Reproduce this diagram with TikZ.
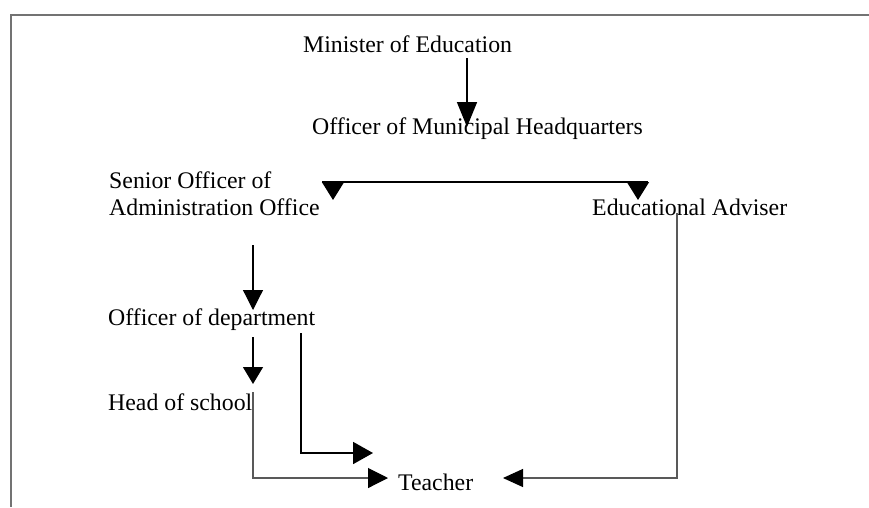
\documentclass[tikz,border=0pt]{standalone}
\usepackage{fontspec}
\setmainfont{Liberation Serif}
\usetikzlibrary{arrows.meta}
\begin{document}
\begin{tikzpicture}[x=1pt,y=-1pt,
  lbl/.style={anchor=base west,inner sep=0pt,font=\fontsize{23.8}{27}\selectfont,align=left},
  frame/.style={draw=black!55,line width=2.4pt},
  link/.style={draw=black,line width=1.6pt},
  thin/.style={draw=black!65,line width=1.1pt},
  tipA/.style={-{Triangle[length=25pt,width=20pt]}},
  tipB/.style={-{Triangle[length=18pt,width=22pt]}},
  tipC/.style={-{Triangle[length=20pt,width=20pt]}}]
\useasboundingbox (0,0) rectangle (869,507);
\fill[white] (0,0) rectangle (869,507);
% outer frame (top and left edges)
\draw[frame] (869,15) -- (11,15) -- (11,507);

% hierarchy labels
\node[lbl] (min) at (303,52) {Minister of Education};
\node[lbl] (moh) at (312,134) {Officer of Municipal Headquarters};
\node[lbl] (sen) at (109,215) {Senior Officer of\\Administration Office};
\node[lbl] (adv) at (592,215) {Educational Adviser};
\node[lbl] (dep) at (108,325) {Officer of department};
\node[lbl] (hos) at (108,410) {Head of school};
\node[lbl] (tea) at (398,490) {Teacher};

% connector end points
\coordinate (minOut) at (467,58);
\coordinate (mohIn) at (467,127);
\coordinate (brL) at (333,182);
\coordinate (brR) at (638,182);
\coordinate (brLtip) at (333,200);
\coordinate (brRtip) at (638,200);
\coordinate (senOut) at (253,245);
\coordinate (depIn) at (253,310);
\coordinate (depOut) at (253,337);
\coordinate (hosIn) at (253,384);
\coordinate (hosOut) at (253,392);
\coordinate (hosBend) at (253,478);
\coordinate (teaInL) at (388,478);
\coordinate (depOut2) at (301,333);
\coordinate (depBend) at (301,453);
\coordinate (teaInM) at (373,453);
\coordinate (advOut) at (677,213);
\coordinate (advBend) at (677,478);
\coordinate (teaInR) at (503,478);

% Minister -> Municipal Headquarters
\draw[link,tipA] (minOut) -- (mohIn);
% branch to the two departments
\draw[link,line width=1.4pt] ([xshift=-11pt]brL) -- ([xshift=10pt]brR);
\draw[link,tipB] (brL) -- (brLtip);
\draw[link,tipB] (brR) -- (brRtip);
% administration chain
\draw[link,line width=1.2pt,tipC] (senOut) -- (depIn);
\draw[link,line width=1.2pt,-{Triangle[length=17pt,width=20pt]}] (depOut) -- (hosIn);
% into Teacher
\draw[thin,-{Triangle[length=20pt,width=20pt,color=black]}] (hosOut) -- (hosBend) -- (teaInL);
\draw[link,line width=1.8pt,-{Triangle[length=20pt,width=22pt]}] (depOut2) -- (depBend) -- (teaInM);
\draw[thin,-{Triangle[length=20pt,width=18pt,color=black]}] (advOut) -- (advBend) -- (teaInR);
\end{tikzpicture}
\end{document}
